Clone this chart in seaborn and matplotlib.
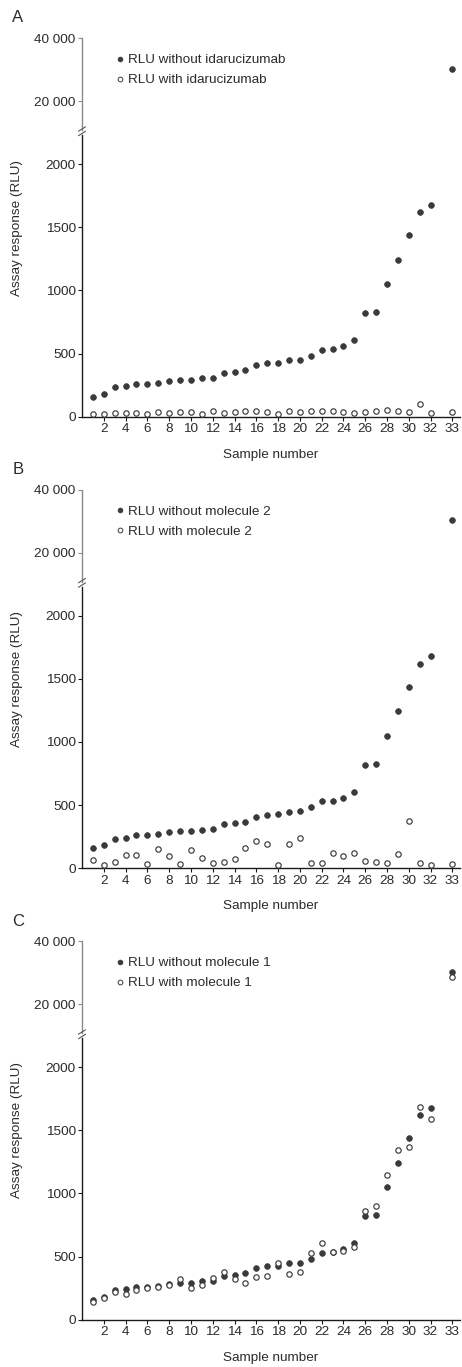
import numpy as np
import pandas as pd
import matplotlib
matplotlib.use("Agg")
import matplotlib.pyplot as plt
import seaborn as sns
from matplotlib.lines import Line2D

# ---------------- data ----------------
samples = list(range(1, 34))
rlu_without = [158, 182, 234, 242, 260, 260, 268, 284, 292, 292, 305, 308, 347, 355,
               368, 410, 424, 426, 445, 450, 484, 529, 532, 560, 605, 818, 826, 1047,
               1242, 1437, 1621, 1679, 30300]
rlu_with_idarucizumab = [24, 24, 32, 32, 32, 24, 34, 29, 37, 37, 21, 45, 29, 37, 47,
                         45, 37, 24, 45, 37, 47, 42, 45, 37, 29, 39, 47, 55, 45, 39,
                         97, 26, 37]
rlu_with_molecule2 = [67, 24, 53, 104, 107, 32, 155, 94, 32, 147, 83, 43, 51, 70, 158,
                      214, 190, 24, 195, 243, 45, 40, 118, 99, 123, 59, 53, 43, 110,
                      372, 45, 27, 37]
rlu_with_molecule1 = [141, 168, 221, 202, 234, 253, 255, 277, 319, 247, 271, 327, 380,
                      324, 293, 340, 346, 452, 364, 380, 529, 604, 532, 545, 572, 859,
                      904, 1142, 1340, 1366, 1684, 1589, 28700]
panel_letters = ["A", "B", "C"]
legend_without = ["RLU without idarucizumab", "RLU without molecule 2", "RLU without molecule 1"]
legend_with = ["RLU with idarucizumab", "RLU with molecule 2", "RLU with molecule 1"]
with_series = [rlu_with_idarucizumab, rlu_with_molecule2, rlu_with_molecule1]
x_tick_labels = [str(v) for v in range(2, 33, 2)] + ["33"]
upper_ticks = [20000, 40000]
upper_tick_labels = ["20 000", "40 000"]
lower_ticks = [0, 500, 1000, 1500, 2000]

# ---------------- style ----------------
sns.set_theme(style="ticks")
plt.rcParams["font.family"] = ["Liberation Sans", "DejaVu Sans"]
TXT = "#2b2b2b"
DOT = "#3a3a3a"
FS = 9.7

W, H = 462, 1367
fig = plt.figure(figsize=(W / 100, H / 100), dpi=100)

def fx(px):
    return px / W

def fy(py):
    return 1 - py / H

x_left, x_right = 82, 460
offsets = [0, 451.6, 903.0]

def xpos(s):
    return s + 1 if s == 33 else s

tick_pos = [xpos(int(t)) for t in x_tick_labels]

for i, off in enumerate(offsets):
    df = pd.DataFrame({
        "x": [xpos(s) for s in samples],
        "without": rlu_without,
        "with": with_series[i],
    })
    up_top, up_bot = 38.3 + off, 130 + off
    lo_top, lo_bot = 135 + off, 416.7 + off

    ax_up = fig.add_axes([fx(x_left), fy(up_bot), fx(x_right) - fx(x_left),
                          (up_bot - up_top) / H])
    ax_lo = fig.add_axes([fx(x_left), fy(lo_bot), fx(x_right) - fx(x_left),
                          (lo_bot - lo_top) / H])

    for ax in (ax_up, ax_lo):
        sns.scatterplot(data=df, x="x", y="without", ax=ax, color=DOT, s=17,
                        edgecolor=DOT, linewidth=0.5, zorder=3, legend=False)
        sns.scatterplot(data=df, x="x", y="with", ax=ax, facecolor="white", s=15,
                        edgecolor=DOT, linewidth=0.85, zorder=4, legend=False)
        ax.set_xlim(0, 34.7)
        ax.set_xlabel("")
        ax.set_ylabel("")
        for sp in ("top", "right"):
            ax.spines[sp].set_visible(False)

    # upper axis
    ax_up.set_ylim(10750, 40000)
    ax_up.spines["bottom"].set_visible(False)
    ax_up.spines["left"].set_color("#8a8a8a")
    ax_up.spines["left"].set_linewidth(1.0)
    ax_up.set_xticks([])
    ax_up.set_yticks(upper_ticks)
    ax_up.set_yticklabels(upper_tick_labels)
    ax_up.tick_params(axis="y", length=3, width=0.8, color="#8a8a8a",
                      labelsize=FS, labelcolor=TXT, pad=2)

    # lower axis
    ax_lo.set_ylim(0, 2230)
    for sp in ("left", "bottom"):
        ax_lo.spines[sp].set_color("#1a1a1a")
        ax_lo.spines[sp].set_linewidth(1.0)
    ax_lo.set_yticks(lower_ticks)
    ax_lo.set_yticklabels([str(v) for v in lower_ticks])
    ax_lo.set_xticks(tick_pos)
    ax_lo.set_xticklabels(x_tick_labels)
    ax_lo.tick_params(axis="both", length=3, width=0.8, color="#1a1a1a",
                      labelsize=FS, labelcolor=TXT, pad=1.5)
    ax_lo.set_xlabel("Sample number", fontsize=FS, color=TXT, labelpad=10)

    # legend
    handles = [
        Line2D([], [], marker="o", linestyle="none", markersize=3.4,
               markerfacecolor=DOT, markeredgecolor=DOT, markeredgewidth=0.6),
        Line2D([], [], marker="o", linestyle="none", markersize=3.4,
               markerfacecolor="white", markeredgecolor=DOT, markeredgewidth=0.7),
    ]
    leg = ax_up.legend(handles, [legend_without[i], legend_with[i]],
                       loc="upper left",
                       bbox_to_anchor=(fx(117), fy(54 + off)),
                       bbox_transform=fig.transFigure,
                       frameon=False, fontsize=FS, handlelength=0.5,
                       handletextpad=0.35, labelspacing=0.55, borderpad=0,
                       borderaxespad=0)
    for t in leg.get_texts():
        t.set_color(TXT)

    # y label centred on the whole panel
    fig.text(fx(17), fy((up_top + lo_bot) / 2), "Assay response (RLU)",
             rotation=90, ha="center", va="center", fontsize=FS, color=TXT)
    # panel letter
    fig.text(fx(18), fy(18 + off), panel_letters[i], ha="center", va="center",
             fontsize=12, color=TXT)

    # axis break marks
    for yb in (129.0 + off, 133.5 + off):
        fig.add_artist(Line2D([fx(x_left - 3.5), fx(x_left + 3.5)],
                              [fy(yb + 2.2), fy(yb - 2.2)],
                              transform=fig.transFigure, color="#555555",
                              linewidth=0.8))

fig.savefig("out.png", dpi=100, facecolor="white")
